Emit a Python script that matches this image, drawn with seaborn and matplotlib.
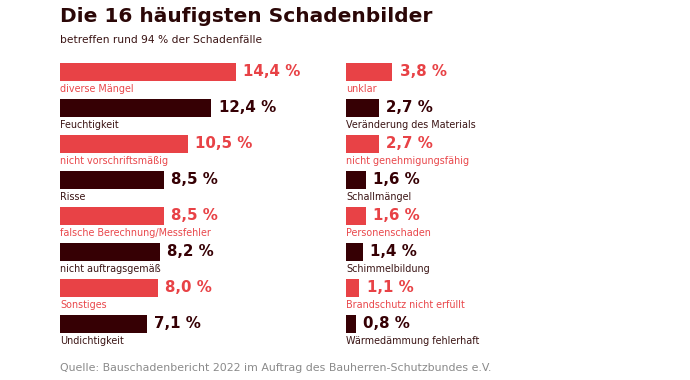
import numpy as np
import pandas as pd
import matplotlib
matplotlib.use("Agg")
import matplotlib.pyplot as plt
import seaborn as sns

# data
left_labels = ["diverse Mängel", "Feuchtigkeit", "nicht vorschriftsmäßig", "Risse",
               "falsche Berechnung/Messfehler", "nicht auftragsgemäß", "Sonstiges", "Undichtigkeit"]
left_values = [14.4, 12.4, 10.5, 8.5, 8.5, 8.2, 8.0, 7.1]
right_labels = ["unklar", "Veränderung des Materials", "nicht genehmigungsfähig", "Schallmängel",
                "Personenschaden", "Schimmelbildung", "Brandschutz nicht erfüllt", "Wärmedämmung fehlerhaft"]
right_values = [3.8, 2.7, 2.7, 1.6, 1.6, 1.4, 1.1, 0.8]
groups = ["rot", "dunkel"] * 4

RED = "#e84246"
DARK = "#360004"
TXT_RED = "#e9474b"
TXT_DARK = "#3a1414"

sns.set_theme(style="white")
plt.rcParams["font.family"] = ["DejaVu Sans"]

W, H = 690, 380
fig = plt.figure(figsize=(W / 100, H / 100), dpi=100)
fig.patch.set_facecolor("white")

px = 12.2   # pixel per percent
aw = 270


def panel(x0, labels, values):
    ax = fig.add_axes([x0 / W, 1 - 342 / H, aw / W, 288 / H])
    df = pd.DataFrame({"label": labels, "value": values, "grp": groups})
    sns.barplot(data=df, x="value", y="label", hue="grp", palette={"rot": RED, "dunkel": DARK},
                width=0.52, dodge=False, legend=False, saturation=1, linewidth=0, ax=ax)
    ax.set_xlim(0, aw / px)
    ax.set_ylim(7.5, -0.5)
    ax.axis("off")
    for i, (lab, v, g) in enumerate(zip(labels, values, groups)):
        c = TXT_RED if g == "rot" else TXT_DARK
        vc = RED if g == "rot" else DARK
        ax.text(v + 0.6, i, f"{v:.1f} %".replace(".", ","), va="center", ha="left",
                fontsize=10.8, fontweight="bold", color=vc)
        ax.text(0, i + 0.48, lab, va="center", ha="left", fontsize=6.9, color=c)
    return ax


panel(60, left_labels, left_values)
panel(346, right_labels, right_values)

fig.text(60 / W, 1 - 16 / H, "Die 16 häufigsten Schadenbilder", fontsize=14.5, fontweight="bold",
         color="#2b0707", va="center", ha="left")
fig.text(60 / W, 1 - 40 / H, "betreffen rund 94 % der Schadenfälle", fontsize=7.7, color="#3a1414",
         va="center", ha="left")
fig.text(60 / W, 1 - 368 / H, "Quelle: Bauschadenbericht 2022 im Auftrag des Bauherren-Schutzbundes e.V.",
         fontsize=7.9, color="#8a8a8a", va="center", ha="left")

fig.savefig("out.png", dpi=100, facecolor="white")
